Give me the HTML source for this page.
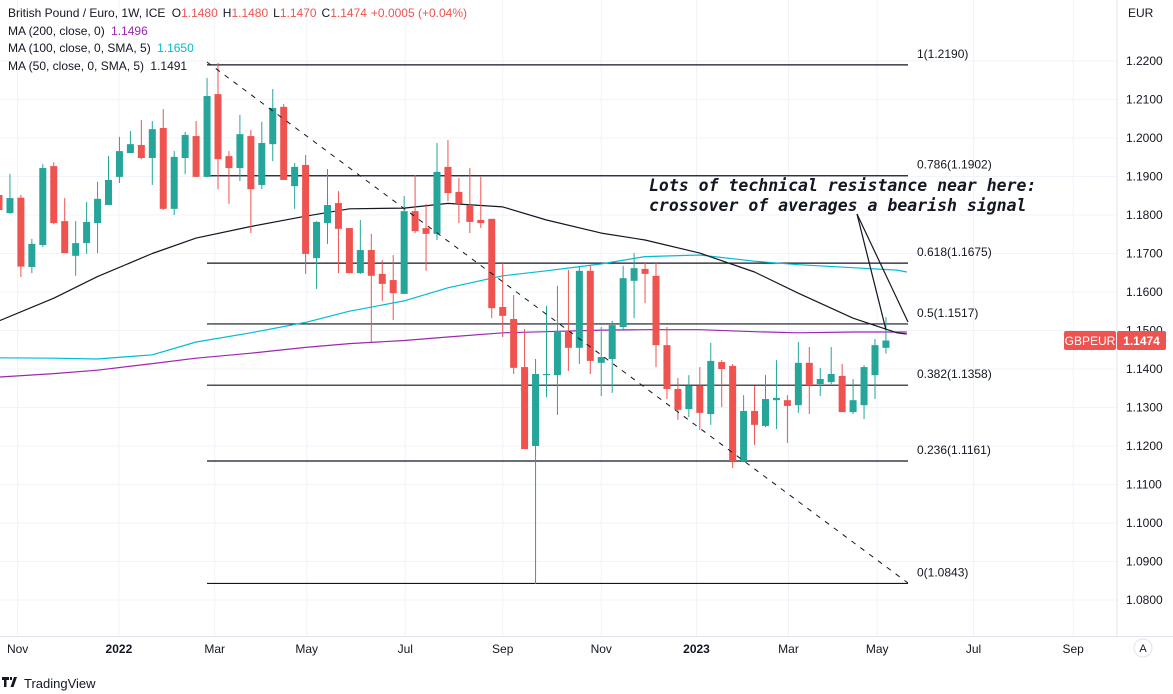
<!DOCTYPE html>
<html><head><meta charset="utf-8"><style>
html,body{margin:0;padding:0;background:#fff;width:1173px;height:694px;overflow:hidden;font-family:"Liberation Sans",sans-serif;}
svg{display:block}
</style></head><body>
<svg id="chart" width="1173" height="694" viewBox="0 0 1173 694" xmlns="http://www.w3.org/2000/svg">
<defs><clipPath id="plotclip"><rect x="0" y="0" width="1117" height="636"/></clipPath></defs>
<g id="grid"></g>
<g id="fibs" clip-path="url(#plotclip)"></g>
<g id="mas" clip-path="url(#plotclip)"></g>
<g id="candles" clip-path="url(#plotclip)"></g>
<line x1="207" y1="62" x2="908" y2="583" stroke="#131722" stroke-width="1" stroke-dasharray="5,6"/>
<g>
<text x="649" y="191" font-family="DejaVu Sans Mono, monospace" font-weight="bold" font-style="italic" font-size="16.5" fill="#131722">Lots of technical resistance near here:</text>
<text x="649" y="211" font-family="DejaVu Sans Mono, monospace" font-weight="bold" font-style="italic" font-size="16.5" fill="#131722">crossover of averages a bearish signal</text>
<line x1="857" y1="214" x2="886" y2="330" stroke="#131722" stroke-width="1.2"/>
<line x1="857" y1="214" x2="908" y2="322" stroke="#131722" stroke-width="1.2"/>
</g>
<g id="yaxis"></g>
<g id="xaxis"></g>
<g font-size="12">
<text x="8" y="17" fill="#131722">British Pound / Euro, 1W, ICE <tspan dx="3">O</tspan><tspan fill="#ef5350">1.1480</tspan><tspan dx="5">H</tspan><tspan fill="#ef5350">1.1480</tspan><tspan dx="5">L</tspan><tspan fill="#ef5350">1.1470</tspan><tspan dx="5">C</tspan><tspan fill="#ef5350">1.1474</tspan><tspan dx="4" fill="#ef5350">+0.0005 (+0.04%)</tspan></text>
<text x="8" y="35" fill="#131722">MA (200, close, 0) <tspan dx="3" fill="#9c27b0">1.1496</tspan></text>
<text x="8" y="52" fill="#131722">MA (100, close, 0, SMA, 5) <tspan dx="3" fill="#00bcd4">1.1650</tspan></text>
<text x="8" y="70" fill="#131722">MA (50, close, 0, SMA, 5) <tspan dx="3">1.1491</tspan></text>
</g>
<g>
<path d="M2 677h7v3h-2.5v7h-2.5v-7h-2z M10 677h2v3h-2z M14 677h3l-3.5 10h-3z" fill="#131722"/>
<text x="24" y="688" font-size="13" fill="#131722">TradingView</text>
</g>
</svg>
<script>
// ---- data ----
const candleOpen  = [1.1852,1.1805,1.1845,1.1665,1.1722,1.1927,1.1784,1.1694,1.1727,1.1779,1.1826,1.1899,1.1961,1.1982,1.1948,1.2026,1.1816,1.1948,1.2005,1.1899,1.2114,1.1953,1.1922,1.2005,1.1878,1.1984,1.2081,1.1875,1.1930,1.1688,1.1779,1.1831,1.1766,1.1649,1.1709,1.1647,1.1631,1.1595,1.1810,1.1766,1.1751,1.1925,1.1860,1.1826,1.1787,1.1790,1.1561,1.1530,1.1405,1.1200,1.1384,1.1384,1.1499,1.1455,1.1655,1.1416,1.1426,1.1509,1.1629,1.1660,1.1642,1.1462,1.1348,1.1296,1.1356,1.1283,1.1418,1.1408,1.1161,1.1291,1.1252,1.1319,1.1319,1.1306,1.1416,1.1361,1.1366,1.1382,1.1288,1.1306,1.1384,1.1455];
const candleHigh  = [1.1852,1.1907,1.1852,1.1738,1.1932,1.1937,1.1844,1.1784,1.1834,1.1886,1.1953,1.2003,1.2018,1.2047,1.2044,1.2075,1.1966,1.2016,1.2044,1.2156,1.2195,1.1966,1.2060,1.2021,1.2042,1.2127,1.2088,1.1935,1.1956,1.1784,1.1919,1.1862,1.1766,1.1787,1.1751,1.1683,1.1696,1.1849,1.1904,1.1829,1.1987,1.1995,1.1896,1.1922,1.1899,1.1790,1.1675,1.1592,1.1504,1.1426,1.1564,1.1616,1.1657,1.1665,1.1670,1.1509,1.1525,1.1668,1.1701,1.1678,1.1678,1.1509,1.1377,1.1384,1.1405,1.1468,1.1423,1.1413,1.1332,1.1356,1.1384,1.1423,1.1332,1.1470,1.1457,1.1403,1.1457,1.1413,1.1374,1.1410,1.1478,1.1535];
const candleLow   = [1.1813,1.1803,1.1639,1.1649,1.1717,1.1776,1.1701,1.1642,1.1699,1.1701,1.1826,1.1883,1.1961,1.1945,1.1878,1.1813,1.1800,1.1906,1.1899,1.1899,1.1867,1.1829,1.1888,1.1753,1.1867,1.1940,1.1891,1.1816,1.1647,1.1608,1.1725,1.1649,1.1649,1.1647,1.1470,1.1577,1.1527,1.1595,1.1753,1.1655,1.1735,1.1836,1.1779,1.1753,1.1766,1.1532,1.1483,1.1387,1.1192,1.0842,1.1327,1.1281,1.1395,1.1413,1.1387,1.1330,1.1338,1.1499,1.1532,1.1571,1.1405,1.1322,1.1268,1.1275,1.1242,1.1255,1.1301,1.1143,1.1158,1.1203,1.1249,1.1244,1.1208,1.1286,1.1283,1.1330,1.1361,1.1288,1.1283,1.1270,1.1322,1.1440];
const candleClose = [1.1813,1.1844,1.1666,1.1725,1.1922,1.1779,1.1701,1.1727,1.1782,1.1842,1.1891,1.1966,1.1984,1.1948,1.2023,1.1816,1.1951,1.2008,1.1899,1.2109,1.1945,1.1922,1.2010,1.1867,1.1987,1.2078,1.1891,1.1925,1.1699,1.1782,1.1826,1.1764,1.1649,1.1709,1.1642,1.1621,1.1597,1.1810,1.1758,1.1751,1.1912,1.1857,1.1829,1.1782,1.1779,1.1558,1.1538,1.1403,1.1192,1.1387,1.1387,1.1499,1.1455,1.1655,1.1421,1.1431,1.1514,1.1636,1.1662,1.1647,1.1462,1.1348,1.1294,1.1356,1.1286,1.1421,1.1400,1.1161,1.1291,1.1255,1.1322,1.1325,1.1304,1.1416,1.1358,1.1374,1.1387,1.1288,1.1319,1.1405,1.1462,1.1474];
const maWeeks = [0,5,9,14,18,23,28,32,37,41,46,50,55,59,64,69,73,78,82,82.9];
const ma200 = [1.1379,1.1388,1.1397,1.1414,1.1428,1.1441,1.1456,1.1466,1.1474,1.1483,1.1494,1.1497,1.1501,1.1502,1.1502,1.1497,1.1494,1.1496,1.1496,1.1496];
const ma100 = [1.1429,1.1428,1.1426,1.1437,1.1470,1.1494,1.1521,1.1550,1.1577,1.1611,1.1642,1.1655,1.1673,1.1692,1.1696,1.1680,1.1671,1.1663,1.1657,1.1652];
const ma50  = [1.1525,1.1584,1.1640,1.1700,1.1740,1.1770,1.1797,1.1816,1.1818,1.1830,1.1821,1.1787,1.1753,1.1735,1.1701,1.1652,1.1597,1.1532,1.1494,1.1491];
const fibLevels = [1, 0.786, 0.618, 0.5, 0.382, 0.236, 0];
const fibPrices = [1.2190, 1.1902, 1.1675, 1.1517, 1.1358, 1.1161, 1.0843];
const priceTicks = [1.22,1.21,1.20,1.19,1.18,1.17,1.16,1.15,1.14,1.13,1.12,1.11,1.10,1.09,1.08];
const timeLabels = ["Nov","2022","Mar","May","Jul","Sep","Nov","2023","Mar","May","Jul","Sep"];
const timeWeeks  = [1.7,10.95,19.7,28.1,37.1,46,55,63.7,72.1,80.2,89,98.1];
const lastPrice = 1.1474;

// ---- axes ----
const NS="http://www.w3.org/2000/svg";
function yS(p){ return 61 + (1.22 - p) * 3850; }
function xS(w){ return -1 + w * 10.95; }
function mk(tag, attrs, parent){ const e=document.createElementNS(NS,tag); for(const k in attrs) e.setAttribute(k,attrs[k]); parent.appendChild(e); return e; }
const grid=document.getElementById('grid'), yaxis=document.getElementById('yaxis'), xaxis=document.getElementById('xaxis');

priceTicks.forEach(p=>{
  const y=yS(p);
  const gl=mk('line',{x1:0,x2:1117,y1:y,y2:y,stroke:'#f0f3fa','stroke-width':1},grid);
  
  
  const t=mk('text',{x:1126,y:y+4,'font-size':12,fill:'#131722'},yaxis);
  t.textContent=p.toFixed(4);
  
  
});
timeLabels.forEach((l,i)=>{
  const x=xS(timeWeeks[i]);
  const gl=mk('line',{x1:x,x2:x,y1:0,y2:636,stroke:'#f0f3fa','stroke-width':1},grid);
  
  
  const bold=/^\d{4}$/.test(l);
  const t=mk('text',{x:x,y:653,'font-size':12,fill:'#131722','text-anchor':'middle','font-weight':bold?'bold':'normal'},xaxis);
  t.textContent=l;
  
  
});
const ab=mk('line',{x1:1117,x2:1117,y1:0,y2:636,stroke:'#e0e3eb','stroke-width':1},yaxis);


const bb=mk('line',{x1:0,x2:1173,y1:636.5,y2:636.5,stroke:'#e0e3eb','stroke-width':1},xaxis);


const cur=mk('text',{x:1128,y:17,'font-size':12,fill:'#131722'},yaxis);
cur.textContent='EUR';


const autoBtn=mk('circle',{cx:1143,cy:648,r:9,fill:'#fff',stroke:'#e0e3eb'},xaxis);


const autoT=mk('text',{x:1143,y:652,'font-size':11,fill:'#131722','text-anchor':'middle'},xaxis);
autoT.textContent='A';



// fib
const fibs=document.getElementById('fibs');
fibPrices.forEach((p,i)=>{
  const y=yS(p);
  const l=mk('line',{x1:207,x2:908,y1:y,y2:y,stroke:'#131722','stroke-width':1.2},fibs);
  
  
  const t=mk('text',{x:917,y:y-7,'font-size':12,fill:'#131722'},fibs);
  t.textContent=fibLevels[i]+'('+p.toFixed(4)+')';
  
  
});

// MAs
const mas=document.getElementById('mas');
function maPath(vals,color,name){
  const d=vals.map((v,i)=>(i?'L':'M')+xS(maWeeks[i]).toFixed(1)+','+yS(v).toFixed(1)).join(' ');
  const p=mk('path',{d:d,fill:'none',stroke:color,'stroke-width':1.2,'stroke-linejoin':'round'},mas);
  
  
}
maPath(ma200,'#9c27b0','ma200-line');
maPath(ma100,'#00bcd4','ma100-line');
maPath(ma50,'#131722','ma50-line');

// candles
const cg=document.getElementById('candles');
candleOpen.forEach((o,i)=>{
  const c=candleClose[i], h=candleHigh[i], lo=candleLow[i];
  const col = c>=o ? '#26a69a' : '#ef5350';
  const x=xS(i);
  const w=mk('line',{x1:x,x2:x,y1:yS(h),y2:yS(lo),stroke:col,'stroke-width':1},cg);
  
  
  const top=yS(Math.max(o,c)), bot=yS(Math.min(o,c));
  const b=mk('rect',{x:x-3.5,y:top,width:7,height:Math.max(1,bot-top),fill:col},cg);
  
  
});

// price tag
const ly=yS(lastPrice);
const tag1=mk('rect',{x:1064,y:ly-9.5,width:52,height:19,rx:2,fill:'#ef5350'},yaxis);


const tt1=mk('text',{x:1090,y:ly+4.5,'font-size':12,fill:'#fff','text-anchor':'middle'},yaxis);
tt1.textContent='GBPEUR';


const tag2=mk('rect',{x:1117,y:ly-9.5,width:49,height:19,rx:2,fill:'#ef5350'},yaxis);


const tt2=mk('text',{x:1141.5,y:ly+4.5,'font-size':12,'font-weight':'bold',fill:'#fff','text-anchor':'middle'},yaxis);
tt2.textContent=lastPrice.toFixed(4);


</script>
</body></html>
